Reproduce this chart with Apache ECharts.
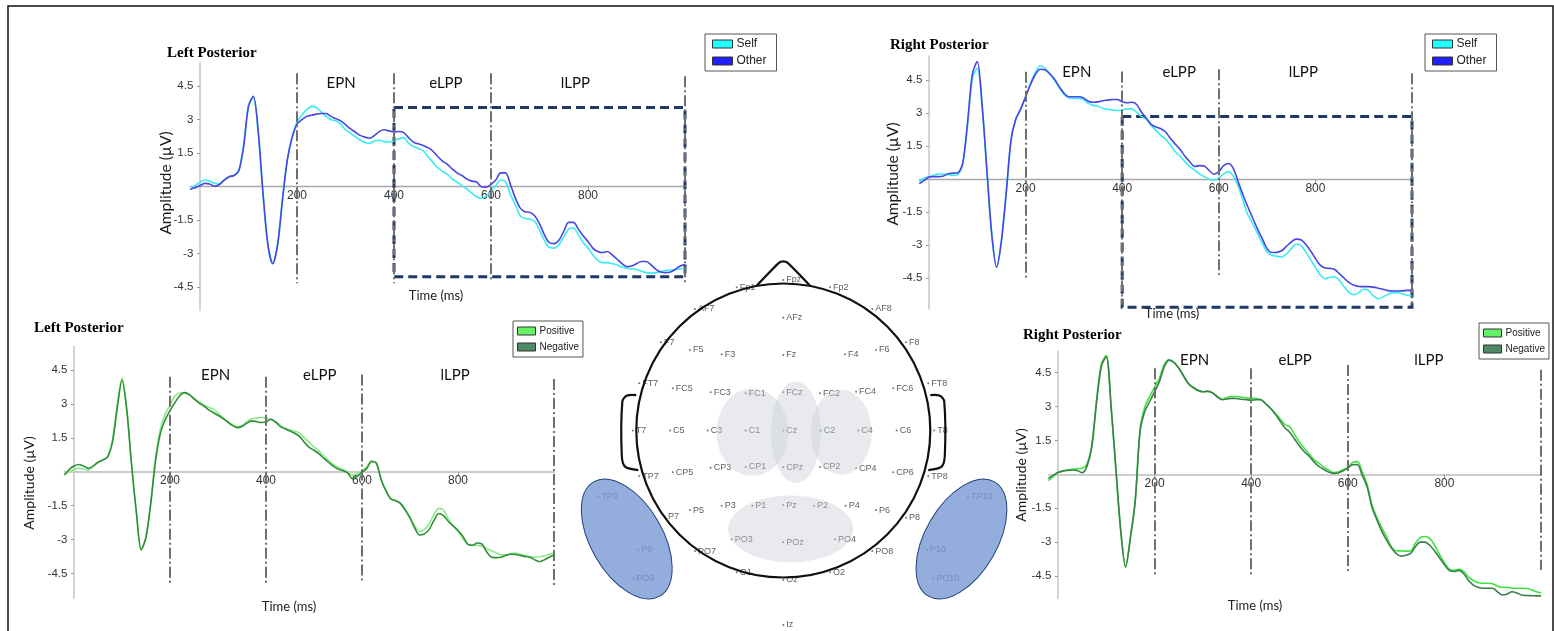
<!DOCTYPE html>
<html><head><meta charset="utf-8">
<script src="https://cdn.jsdelivr.net/npm/echarts@6/dist/echarts.min.js"></script>
<style>html,body{margin:0;padding:0;background:#fff}#c{width:1554px;height:631px}</style>
</head><body><div id="c"></div><script>
// ---------- time axis (ms) ----------
const timesMs = [-20,-10,0,10,20,30,40,50,60,70,80,90,100,110,120,130,140,150,160,170,180,190,200,210,220,230,240,250,260,270,280,290,300,310,320,330,340,350,360,370,380,390,400,410,420,430,440,450,460,470,480,490,500,510,520,530,540,550,560,570,580,590,600,610,620,630,640,650,660,670,680,690,700,710,720,730,740,750,760,770,780,790,800,810,820,830,840,850,860,870,880,890,900,910,920,930,940,950,960,970,980,990,1000];

// ---------- amplitudes (µV) ----------
const leftSelf = [-0.15,0.05,
 0.2,0.3,0.25,0.15,0.12,0.3,0.45,0.5,0.75,1.9,
 3.65,4.0,2.4,-0.4,-2.6,-3.45,-2.6,-0.6,1.2,2.25,
 2.9,3.2,3.45,3.6,3.55,3.35,3.15,3.0,2.95,2.8,
 2.55,2.4,2.25,2.1,1.98,1.95,2.05,2.08,2.02,2.0,
 2.05,2.15,2.2,1.95,1.8,1.72,1.6,1.35,1.1,0.85,
 0.68,0.55,0.35,0.2,0.05,-0.1,-0.28,-0.45,-0.52,-0.42,
 -0.2,0.05,0.3,0.22,-0.35,-0.8,-1.3,-1.42,-1.45,-1.55,
 -1.95,-2.4,-2.72,-2.75,-2.6,-2.25,-1.9,-1.85,-2.15,-2.5,
 -2.75,-3.05,-3.3,-3.4,-3.4,-3.45,-3.5,-3.6,-3.65,-3.68,
 -3.7,-3.78,-3.85,-3.87,-3.85,-3.8,-3.75,-3.73,-3.72,-3.68,
 -3.65];
const leftOther = [-0.1,-0.05,
 0.05,0.15,0.12,0.02,0.1,0.3,0.45,0.5,0.7,1.8,
 3.6,4.05,2.5,-0.3,-2.6,-3.45,-2.6,-0.6,1.2,2.2,
 2.8,3.0,3.15,3.2,3.25,3.28,3.28,3.15,3.05,2.95,
 2.78,2.6,2.45,2.3,2.22,2.17,2.3,2.48,2.55,2.5,
 2.45,2.47,2.42,2.2,2.0,1.92,1.85,1.75,1.6,1.35,
 1.15,1.0,0.8,0.62,0.5,0.35,0.25,0.22,0.0,-0.02,
 0.1,0.3,0.62,0.62,0.1,-0.5,-0.95,-1.12,-1.15,-1.3,
 -1.65,-2.15,-2.5,-2.55,-2.4,-2.0,-1.6,-1.6,-1.9,-2.2,
 -2.45,-2.75,-2.9,-2.95,-2.9,-3.05,-3.25,-3.45,-3.58,-3.55,
 -3.45,-3.35,-3.35,-3.5,-3.7,-3.82,-3.85,-3.82,-3.7,-3.55,
 -3.5];
const rightSelf = [-0.1,0.05,
 0.12,0.2,0.24,0.24,0.22,0.18,0.22,0.7,2.5,4.6,
 5.05,3.3,0.35,-2.5,-4.0,-2.8,-0.6,1.8,2.75,3.2,
 3.75,4.35,4.85,5.15,5.05,4.78,4.5,4.15,3.85,3.7,
 3.68,3.68,3.62,3.45,3.36,3.32,3.22,3.18,3.15,3.13,
 3.14,3.2,3.2,3.05,2.85,2.72,2.45,2.22,2.0,1.82,
 1.55,1.25,1.05,0.8,0.58,0.42,0.25,0.12,0.0,-0.03,
 0.05,0.25,0.35,0.15,-0.3,-0.95,-1.6,-2.0,-2.45,-2.9,
 -3.3,-3.45,-3.5,-3.53,-3.4,-3.15,-2.95,-3.0,-3.3,-3.65,
 -4.0,-4.35,-4.52,-4.45,-4.43,-4.6,-4.9,-5.15,-5.25,-5.15,
 -5.0,-5.05,-5.3,-5.43,-5.35,-5.23,-5.15,-5.15,-5.2,-5.27,
 -5.3];
const rightOther = [-0.2,-0.05,
 0.1,0.12,0.12,0.15,0.25,0.28,0.3,0.75,2.6,4.8,
 5.35,3.4,0.4,-2.5,-4.0,-2.8,-0.6,1.8,2.75,3.2,
 3.75,4.3,4.75,5.0,4.98,4.8,4.55,4.2,3.9,3.75,
 3.75,3.75,3.7,3.55,3.5,3.52,3.57,3.6,3.63,3.63,
 3.52,3.48,3.5,3.4,3.05,2.78,2.5,2.38,2.3,2.15,
 1.85,1.6,1.35,1.05,0.8,0.58,0.62,0.6,0.4,0.23,
 0.35,0.62,0.72,0.5,-0.1,-0.7,-1.25,-1.75,-2.25,-2.7,
 -3.15,-3.33,-3.32,-3.25,-3.05,-2.85,-2.72,-2.75,-2.95,-3.25,
 -3.6,-3.9,-4.03,-4.05,-4.1,-4.3,-4.5,-4.7,-4.82,-4.87,
 -4.88,-4.88,-4.9,-4.95,-5.0,-5.06,-5.08,-5.08,-5.07,-5.05,
 -5.05];
const leftPositive = [-0.12,0.0,
 0.1,0.15,0.12,0.07,0.25,0.42,0.52,0.68,1.4,2.95,
 4.15,2.8,0.3,-1.8,-3.45,-2.9,-1.3,0.6,1.9,2.55,
 2.95,3.35,3.48,3.5,3.4,3.25,3.1,2.95,2.85,2.78,
 2.6,2.4,2.22,2.08,2.0,2.05,2.2,2.35,2.38,2.4,
 2.38,2.3,2.2,2.05,1.92,1.85,1.8,1.7,1.5,1.3,
 1.1,0.92,0.72,0.5,0.32,0.2,0.1,-0.02,-0.15,-0.08,
 0.05,0.22,0.48,0.35,-0.35,-0.85,-1.2,-1.28,-1.4,-1.65,
 -2.0,-2.4,-2.65,-2.55,-2.3,-1.9,-1.62,-1.7,-2.1,-2.4,
 -2.65,-2.95,-3.2,-3.25,-3.25,-3.3,-3.4,-3.5,-3.6,-3.68,
 -3.68,-3.62,-3.6,-3.65,-3.72,-3.76,-3.78,-3.76,-3.72,-3.65,
 -3.6];
const leftNegative = [-0.15,0.1,
 0.25,0.32,0.25,0.15,0.25,0.42,0.52,0.65,1.3,2.8,
 4.05,2.7,0.3,-1.8,-3.45,-2.9,-1.4,0.5,1.7,2.3,
 2.7,3.05,3.35,3.5,3.42,3.22,3.05,2.92,2.75,2.62,
 2.5,2.36,2.2,2.05,1.95,2.0,2.15,2.25,2.22,2.18,
 2.2,2.32,2.2,2.0,1.9,1.8,1.7,1.55,1.3,1.08,
 0.95,0.8,0.6,0.42,0.25,0.12,0.05,-0.05,-0.3,-0.2,
 -0.02,0.15,0.45,0.38,-0.35,-0.85,-1.2,-1.28,-1.4,-1.7,
 -2.05,-2.5,-2.8,-2.75,-2.55,-2.15,-1.85,-1.95,-2.2,-2.4,
 -2.6,-2.85,-3.2,-3.25,-3.15,-3.2,-3.55,-3.78,-3.8,-3.78,
 -3.7,-3.65,-3.66,-3.7,-3.75,-3.78,-3.9,-3.98,-3.9,-3.78,
 -3.7];
const rightPositive = [-0.28,-0.1,
 0.08,0.15,0.2,0.22,0.25,0.27,0.45,1.3,3.3,4.9,
 5.25,3.0,0.2,-2.5,-4.1,-2.8,-1.1,2.0,3.0,3.44,
 3.85,4.25,4.85,5.07,4.95,4.7,4.35,4.0,3.82,3.7,
 3.65,3.66,3.6,3.45,3.32,3.4,3.44,3.44,3.42,3.38,
 3.36,3.35,3.3,3.12,2.92,2.7,2.45,2.2,2.1,1.75,
 1.42,1.15,0.9,0.65,0.49,0.32,0.2,0.08,0.1,0.2,
 0.3,0.52,0.56,0.1,-0.45,-1.35,-1.9,-2.35,-2.75,-3.2,
 -3.38,-3.39,-3.4,-3.39,-3.05,-2.8,-2.75,-2.85,-3.15,-3.55,
 -3.9,-4.2,-4.25,-4.2,-4.3,-4.55,-4.7,-4.8,-4.82,-4.82,
 -4.84,-4.95,-5.0,-5.0,-5.04,-5.04,-5.04,-5.05,-5.1,-5.2,
 -5.25];
const rightNegative = [-0.18,-0.05,
 0.08,0.14,0.17,0.19,0.17,0.07,0.35,1.2,3.2,4.8,
 5.2,3.0,0.2,-2.5,-4.1,-2.8,-1.2,1.9,2.8,3.22,
 3.65,4.1,4.75,5.05,4.95,4.7,4.35,4.02,3.85,3.72,
 3.65,3.68,3.6,3.42,3.3,3.33,3.36,3.35,3.32,3.3,
 3.28,3.3,3.3,3.12,2.92,2.65,2.35,2.05,1.85,1.55,
 1.25,1.0,0.8,0.55,0.35,0.22,0.1,0.04,0.06,0.15,
 0.27,0.42,0.42,-0.05,-0.55,-1.45,-2.0,-2.5,-2.9,-3.25,
 -3.5,-3.62,-3.58,-3.5,-3.2,-3.0,-3.0,-3.15,-3.4,-3.7,
 -4.0,-4.25,-4.3,-4.25,-4.4,-4.7,-4.9,-5.0,-5.04,-5.04,
 -5.04,-5.2,-5.34,-5.3,-5.2,-5.25,-5.34,-5.36,-5.37,-5.38,
 -5.38];

// ---------- labels / ticks ----------
const panelTitles = ['Left Posterior', 'Right Posterior', 'Left Posterior', 'Right Posterior'];
const xTickValues = [200, 400, 600, 800];
const yTickValues = [-4.5, -3, -1.5, 1.5, 3, 4.5];
const windowNames = ['EPN', 'eLPP', 'lLPP'];
const windowLabelTimes = [[291, 507, 774], [306, 518, 775], [295, 512, 794], [283, 491, 768]];
const windowLabelLevel = [4.63, 4.85, 4.28, 5.06];
const boundaryTimes = [200, 400, 600, 1000];
const boundaryTop = [[5.08, 5.08, 5.08, 4.95], [4.89, 4.9, 5.0, 4.82], [4.2, 4.2, 4.3, 4.1], [4.69, 4.69, 4.84, 4.62]];
const boundaryBottom = [[-4.33, -4.33, -4.18, -4.4], [-4.5, -5.7, -4.35, -5.7], [-5.0, -5.0, -4.85, -5.1], [-4.53, -4.53, -4.38, -4.23]];
const boxRegions = [[400, 3.55, 1000, -4.03], [400, 2.85, 1000, -5.82], null, null];
const selfOtherNames = ['Self', 'Other'];
const valenceNames = ['Positive', 'Negative'];
const axisNameY = 'Amplitude (µV)';
const axisNameX = 'Time (ms)';

// ---------- electrode montage (unit-head coordinates) ----------
const electrodes = [
 ['Fp1',-0.317,0.974],['Fpz',0,1.024],['Fp2',0.318,0.974],
 ['AF7',-0.601,0.827],['AFz',0,0.767],['AF8',0.605,0.827],
 ['F7',-0.832,0.6],['F5',-0.635,0.548],['F3',-0.419,0.518],['Fz',0,0.514],['F4',0.42,0.518],['F6',0.631,0.548],['F8',0.835,0.6],
 ['FT7',-0.98,0.321],['FC5',-0.752,0.287],['FC3',-0.494,0.26],['FC1',-0.256,0.253],['FCz',0,0.26],['FC2',0.25,0.253],['FC4',0.495,0.264],['FC6',0.748,0.287],['FT8',0.986,0.321],
 ['T7',-1.024,0],['C5',-0.771,0],['C3',-0.514,0],['C1',-0.256,0],['Cz',0,0],['C2',0.254,0],['C4',0.51,0],['C6',0.771,0],['T8',1.027,0],
 ['TP7',-0.98,-0.31],['CP5',-0.752,-0.284],['CP3',-0.494,-0.253],['CP1',-0.256,-0.248],['CPz',0,-0.25],['CP2',0.25,-0.248],['CP4',0.495,-0.257],['CP6',0.748,-0.284],['TP8',0.986,-0.31],
 ['TP9',-1.259,-0.45],['P7',-0.805,-0.586],['P5',-0.635,-0.541],['P3',-0.419,-0.512],['P1',-0.211,-0.512],['Pz',0,-0.507],['P2',0.209,-0.512],['P4',0.424,-0.512],['P6',0.631,-0.541],['P8',0.835,-0.593],['TP10',1.256,-0.45],
 ['P9',-0.986,-0.813],['PO7',-0.601,-0.82],['PO3',-0.351,-0.74],['POz',0,-0.761],['PO4',0.352,-0.74],['PO8',0.605,-0.82],['P10',0.976,-0.813],
 ['PO9',-1.02,-1.005],['O1',-0.317,-0.965],['Oz',0,-1.017],['O2',0.318,-0.965],['PO10',1.02,-1.005],
 ['Iz',0,-1.323]
];
// [cx, cy, rx, ry, rotationDeg]
const centralRegions = [[-0.211,-0.012,0.244,0.298,0],[0.086,-0.012,0.17,0.346,0],[0.395,-0.012,0.206,0.289,0],[0.05,-0.67,0.425,0.227,0]];
const posteriorRegions = [[-1.065,-0.738,0.245,0.449,30],[1.212,-0.738,0.245,0.449,-30]];
const headCircle = [0, 0, 1];
const nosePoints = [[-0.181,0.985],[-0.03,1.14],[0,1.15],[0.03,1.14],[0.182,0.985]];
const leftEarPoints = [[-1.0,0.241],[-1.065,0.237],[-1.095,0.196],[-1.099,-0.167],[-1.077,-0.246],[-0.986,-0.269]];
const rightEarPoints = [[1.0,0.241],[1.065,0.237],[1.095,0.196],[1.099,-0.167],[1.077,-0.246],[0.986,-0.269]];

// ---------- styles ----------
const FONT = 'Lato, "Liberation Sans", sans-serif';
const colSelf = '#38ecf2', colOther = '#4646e2';
const colPosL = '#8ce88c', colNegL = '#2f8f36';
const colPosR = '#3fe23f', colNegR = '#3b7f4c';

const chart = echarts.init(document.getElementById('c'), null, {renderer: 'canvas'});

const gridBoxes = [
  {left: 190.3, top: 62.8, width: 494.7, height: 247.8},
  {left: 919.3, top: 56.1, width: 492.7, height: 253},
  {left: 64.4, top: 346.3, width: 489.6, height: 252},
  {left: 1048.3, top: 351.1, width: 492.7, height: 247.5},
  {left: 548.1, top: 255, width: 470.4, height: 376}
];
const yRanges = [[-5.55, 5.55], [-5.9, 5.6], [-5.6, 5.55], [-5.5, 5.45]];
const zeroLineStyles = [
  {color: '#a8a8a8', width: 1.3}, {color: '#a8a8a8', width: 1.3},
  {color: '#cacaca', width: 2}, {color: '#bdbdbd', width: 1.6}
];

const xAxes = [], yAxes = [];
for (let i = 0; i < 4; i++) {
  const [ymin, ymax] = yRanges[i];
  // lift the time axis (line, ticks, labels) up to the 0 µV level
  const zeroOffset = -gridBoxes[i].height * (0 - ymin) / (ymax - ymin);
  xAxes.push({
    gridIndex: i, type: 'value', min: -20, max: 1000, position: 'bottom', offset: zeroOffset,
    axisLine: {onZero: false, lineStyle: zeroLineStyles[i]},
    axisTick: {show: true, customValues: xTickValues, length: 4, lineStyle: {color: '#9a9a9a'}},
    axisLabel: {customValues: xTickValues, fontFamily: '"Liberation Sans", sans-serif', fontSize: 12, color: '#333', margin: 3},
    splitLine: {show: false}
  });
  yAxes.push({
    gridIndex: i, type: 'value', min: ymin, max: ymax,
    axisLine: {show: true, onZero: true, lineStyle: {color: '#c6c6c6', width: 1.5}},
    axisTick: {show: true, customValues: yTickValues, length: 3, lineStyle: {color: '#9a9a9a'}},
    axisLabel: {customValues: yTickValues, formatter: v => String(v), fontFamily: '"Liberation Sans", sans-serif', fontSize: 11.5, color: '#333', margin: -3},
    splitLine: {show: false}
  });
}
xAxes.push({gridIndex: 4, type: 'value', min: -1.6, max: 1.6, show: false});
yAxes.push({gridIndex: 4, type: 'value', min: -1.364, max: 1.194, show: false});

function pairs(values) { return timesMs.map((t, k) => [t, values[k]]); }

function markers(i) {
  const lines = boundaryTimes.map((t, k) => [
    {coord: [t, boundaryTop[i][k]]}, {coord: [t, boundaryBottom[i][k]]}
  ]);
  const m = {
    markLine: {
      silent: true, symbol: ['none', 'none'], label: {show: false},
      lineStyle: {color: '#6f6f6f', width: 2, type: [11, 3, 2, 3]},
      data: lines
    },
    markPoint: {
      silent: true, symbol: 'rect', symbolSize: 1, itemStyle: {color: 'rgba(0,0,0,0)'},
      label: {show: true, position: 'inside', formatter: '{b}', fontFamily: FONT, fontSize: 15, color: '#111'},
      data: windowNames.map((n, k) => ({name: n, coord: [windowLabelTimes[i][k], windowLabelLevel[i]]}))
    }
  };
  if (boxRegions[i]) {
    const b = boxRegions[i];
    m.markArea = {
      silent: true,
      itemStyle: {color: 'rgba(0,0,0,0)', borderColor: '#1f3864', borderWidth: 3, borderType: [9, 5]},
      data: [[{coord: [b[0], b[1]]}, {coord: [b[2], b[3]]}]]
    };
  }
  return m;
}

function lineSeries(i, name, values, color, withMarkers, z) {
  return Object.assign({
    type: 'line', name: name, xAxisIndex: i, yAxisIndex: i,
    data: pairs(values), showSymbol: false, smooth: 0.3, silent: true,
    lineStyle: {color: color, width: 1.6}, itemStyle: {color: color}, z: z
  }, withMarkers ? markers(i) : {});
}

const series = [
  lineSeries(0, 'Self', leftSelf, colSelf, true, 2),
  lineSeries(0, 'Other', leftOther, colOther, false, 3),
  lineSeries(1, 'Self', rightSelf, colSelf, true, 2),
  lineSeries(1, 'Other', rightOther, colOther, false, 3),
  lineSeries(2, 'Positive', leftPositive, colPosL, true, 2),
  lineSeries(2, 'Negative', leftNegative, colNegL, false, 3),
  lineSeries(3, 'Positive', rightPositive, colPosR, true, 2),
  lineSeries(3, 'Negative', rightNegative, colNegR, false, 3),
  {
    type: 'scatter', name: 'electrodes', xAxisIndex: 4, yAxisIndex: 4, silent: true, z: 2,
    data: electrodes.map(e => ({name: e[0], value: [e[1], e[2]]})),
    symbol: 'circle', symbolSize: 2, itemStyle: {color: '#555'},
    label: {show: true, position: 'right', distance: 2, formatter: '{b}', fontFamily: '"Liberation Sans", sans-serif', fontSize: 9, color: '#333'}
  },
  {
    type: 'custom', name: 'regions', xAxisIndex: 4, yAxisIndex: 4, silent: true, z: 3, clip: false,
    data: centralRegions.map((r, k) => [r[0], r[1], k]).concat(posteriorRegions.map((r, k) => [r[0], r[1], 100 + k])),
    renderItem: function (params, api) {
      const id = api.value(2);
      const blue = id >= 100;
      const r = blue ? posteriorRegions[id - 100] : centralRegions[id];
      const c = api.coord([r[0], r[1]]);
      const u = api.size([1, 1]);
      return {
        type: 'ellipse', x: c[0], y: c[1], rotation: r[4] * Math.PI / 180,
        shape: {cx: 0, cy: 0, rx: r[2] * u[0], ry: r[3] * u[1]},
        style: blue ? {fill: 'rgba(120,152,212,0.8)', stroke: '#24407a', lineWidth: 1}
                    : {fill: 'rgba(200,205,214,0.42)', stroke: null}
      };
    }
  },
  {
    type: 'custom', name: 'head', xAxisIndex: 4, yAxisIndex: 4, silent: true, z: 4, clip: false,
    data: [[0, 0]],
    renderItem: function (params, api) {
      const u = api.size([1, 1]);
      const c = api.coord([headCircle[0], headCircle[1]]);
      const lineStyle = {stroke: '#111', lineWidth: 2.2, fill: null};
      return {
        type: 'group', children: [
          {type: 'circle', shape: {cx: c[0], cy: c[1], r: headCircle[2] * u[0]}, style: lineStyle},
          {type: 'polyline', shape: {points: nosePoints.map(p => api.coord(p)), smooth: 0.2}, style: lineStyle},
          {type: 'polyline', shape: {points: leftEarPoints.map(p => api.coord(p)), smooth: 0.3}, style: lineStyle},
          {type: 'polyline', shape: {points: rightEarPoints.map(p => api.coord(p)), smooth: 0.3}, style: lineStyle}
        ]
      };
    }
  }
];

function legendBox(names, left, top, swatches, fontSize, iconW, pad, gap) {
  return {
    data: names.map((n, k) => ({name: n, itemStyle: {color: swatches[k]}})),
    left: left, top: top, orient: 'vertical', icon: 'rect',
    itemWidth: iconW, itemHeight: 8, itemGap: gap, padding: pad,
    borderColor: '#555', borderWidth: 1, backgroundColor: '#fff',
    itemStyle: {borderColor: '#333', borderWidth: 1},
    textStyle: {fontFamily: '"Liberation Sans", sans-serif', fontSize: fontSize, color: '#222', lineHeight: 12, padding: [0, 0, 0, -1]},
    selectedMode: false
  };
}

const titleFont = 'bold 15px "Liberation Serif", serif';
const nameFont = '13px ' + FONT;
function yName(x, y, size) {
  return {type: 'text', x: x, y: y, rotation: Math.PI / 2,
    style: {text: axisNameY, font: size + 'px ' + FONT, fill: '#1a1a1a', align: 'center', verticalAlign: 'middle'}};
}
const graphicEls = [
  {type: 'rect', shape: {x: 8, y: 6, width: 1545, height: 640}, style: {fill: null, stroke: '#111', lineWidth: 1.5}, silent: true, z: -1},
  {type: 'text', x: 167, y: 53, style: {text: panelTitles[0], font: titleFont, fill: '#000', verticalAlign: 'middle'}},
  {type: 'text', x: 890, y: 45, style: {text: panelTitles[1], font: titleFont, fill: '#000', verticalAlign: 'middle'}},
  {type: 'text', x: 34, y: 328, style: {text: panelTitles[2], font: titleFont, fill: '#000', verticalAlign: 'middle'}},
  {type: 'text', x: 1023, y: 335, style: {text: panelTitles[3], font: titleFont, fill: '#000', verticalAlign: 'middle'}},
  yName(166, 183, 15.5), yName(893, 174, 15.5), yName(29, 483, 14), yName(1021.5, 475, 14),
  {type: 'text', x: 436, y: 296, style: {text: axisNameX, font: nameFont, fill: '#222', align: 'center', verticalAlign: 'middle'}},
  {type: 'text', x: 1172, y: 314, style: {text: axisNameX, font: nameFont, fill: '#222', align: 'center', verticalAlign: 'middle'}},
  {type: 'text', x: 289, y: 607, style: {text: axisNameX, font: nameFont, fill: '#222', align: 'center', verticalAlign: 'middle'}},
  {type: 'text', x: 1255, y: 606, style: {text: axisNameX, font: nameFont, fill: '#222', align: 'center', verticalAlign: 'middle'}}
];

chart.setOption({
  backgroundColor: '#fff',
  animation: false,
  grid: gridBoxes,
  xAxis: xAxes,
  yAxis: yAxes,
  legend: [
    legendBox(selfOtherNames, 705, 34, ['#22ffff', '#1f1fff'], 12, 20, [4, 10, 4, 7], 5),
    legendBox(selfOtherNames, 1425, 34, ['#22ffff', '#1f1fff'], 12, 20, [4, 10, 4, 7], 5),
    legendBox(valenceNames, 513, 321, ['#66f266', '#4f8a66'], 10, 18, [4, 4, 4, 4], 4),
    legendBox(valenceNames, 1479, 323, ['#66f266', '#4f8a66'], 10, 18, [4, 4, 4, 4], 4)
  ],
  series: series,
  graphic: {elements: graphicEls}
});
</script></body></html>
